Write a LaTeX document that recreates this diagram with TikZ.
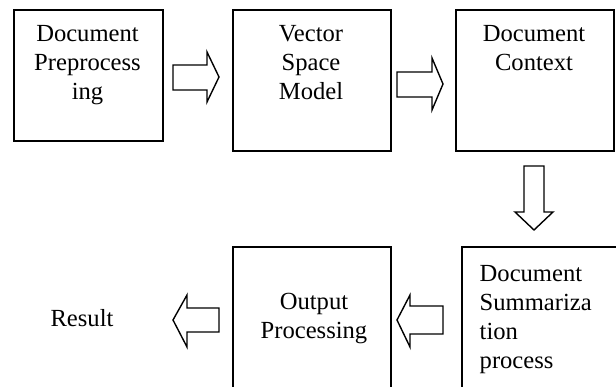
\documentclass[tikz,border=0pt]{standalone}
\usepackage{fontspec}
\setmainfont{Liberation Serif}
\begin{document}
\begin{tikzpicture}[x=1pt,y=-1pt,
  box/.style={draw=black,line width=1.7pt,inner sep=0pt,anchor=north west},
  lbl/.style={inner sep=0pt,font=\fontsize{24.6}{29}\selectfont},
  blockarrow/.style={draw=black,line width=1.4pt,fill=white,line join=miter}]
\useasboundingbox (0,0) rectangle (616,387);
\clip (0,0) rectangle (616,387);
% boxes
\node[box,minimum width=149pt,minimum height=131pt] (b1) at (13,9) {};
\node[box,minimum width=158pt,minimum height=141pt] (b2) at (232,9) {};
\node[box,minimum width=158pt,minimum height=141pt] (b3) at (455,9) {};
\node[box,minimum width=180pt,minimum height=160pt] (b4) at (461,246) {};
\node[box,minimum width=158pt,minimum height=160pt] (b5) at (232,246) {};
% texts
\node[lbl,align=center,anchor=north] (t1) at (87.5,25) {Document\\Preprocess\\ing};
\node[lbl,align=center,anchor=north] (t2) at (311,25) {Vector\\Space\\Model};
\node[lbl,align=center,anchor=north] (t3) at (534,25) {Document\\Context};
\node[lbl,align=left,anchor=north west] (t4) at (479.5,265) {Document\\Summariza\\tion\\process};
\node[lbl,align=center,anchor=north] (t5) at (314,293) {Output\\Processing};
\node[lbl,anchor=base] (t6) at (82,327) {Result};
% block arrows
\draw[blockarrow] (173,65) -- (207,65) -- (207,52) -- (219,77) -- (207,102) -- (207,90) -- (173,90) -- cycle;
\draw[blockarrow] (397,72) -- (432,72) -- (432,58) -- (443,84) -- (432,110) -- (432,97) -- (397,97) -- cycle;
\draw[blockarrow] (524,166) -- (544,166) -- (544,212) -- (553,212) -- (534,230) -- (515,212) -- (524,212) -- cycle;
\draw[blockarrow] (443,306) -- (410,306) -- (410,295) -- (397,320) -- (410,347) -- (410,334) -- (443,334) -- cycle;
\draw[blockarrow] (219,308) -- (187,308) -- (187,295) -- (173,320) -- (187,347) -- (187,332) -- (219,332) -- cycle;
\end{tikzpicture}
\end{document}
